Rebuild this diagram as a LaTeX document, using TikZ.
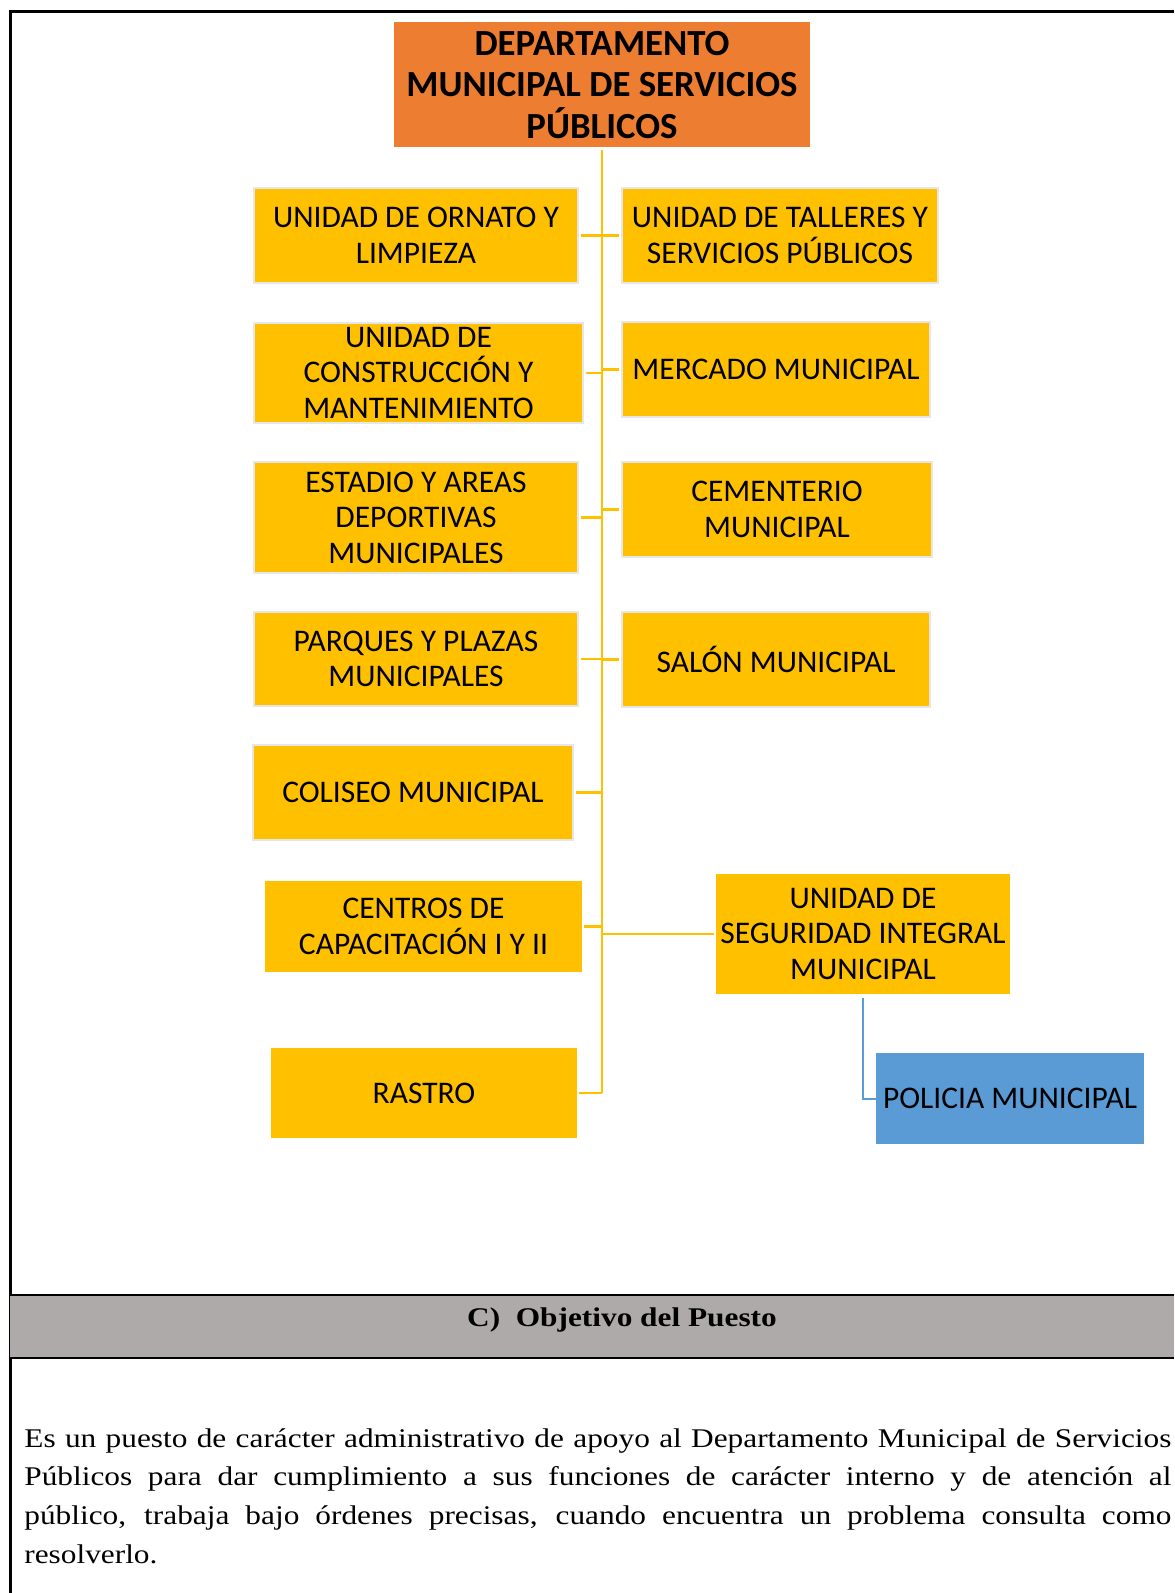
\documentclass[tikz,border=0pt]{standalone}
\usepackage{fontspec}
\setmainfont{Liberation Serif}[FakeStretch=1.16]
\newfontfamily\calibri{Carlito}

\definecolor{naranja}{HTML}{ED7D31}
\definecolor{oro}{HTML}{FFC000}
\definecolor{azul}{HTML}{5B9BD5}
\definecolor{gris}{HTML}{AEAAAA}
\definecolor{borde}{HTML}{E6E6E6}

\begin{document}
\begin{tikzpicture}[x=0.5pt,y=-0.5pt,
	unidad/.style={fill=oro, inner sep=0pt, align=center, font=\calibri\fontsize{15.75}{17.75}\selectfont},
	marco/.style={unidad, draw=borde, line width=1.2pt},
	rama/.style={draw=oro, line width=1.4pt, shorten <=1pt}]
	\useasboundingbox (0,0) rectangle (1174,1593);

	% organigrama
	\node[unidad, fill=naranja, font=\calibri\bfseries\fontsize{18.4}{20.8}\selectfont, minimum width=208pt, minimum height=62.5pt] (depto) at (602,85) {DEPARTAMENTO\\MUNICIPAL DE SERVICIOS\\PÚBLICOS};

	\node[marco, minimum width=162pt, minimum height=47.5pt] (orn) at (416,235.5) {UNIDAD DE ORNATO Y\\LIMPIEZA};
	\node[marco, minimum width=158pt, minimum height=47.5pt] (tal) at (780,235.5) {UNIDAD DE TALLERES Y\\SERVICIOS PÚBLICOS};
	\node[marco, minimum width=164.5pt, minimum height=50pt] (con) at (418.5,373) {UNIDAD DE\\CONSTRUCCIÓN Y\\MANTENIMIENTO};
	\node[marco, minimum width=154pt, minimum height=47.5pt] (mer) at (776,369.5) {MERCADO MUNICIPAL};
	\node[marco, minimum width=162pt, minimum height=55.5pt] (est) at (416,517.5) {ESTADIO Y AREAS\\DEPORTIVAS\\MUNICIPALES};
	\node[marco, minimum width=155pt, minimum height=47.5pt] (cem) at (777,509.5) {CEMENTERIO\\MUNICIPAL};
	\node[marco, minimum width=162pt, minimum height=47pt] (par) at (416,659) {PARQUES Y PLAZAS\\MUNICIPALES};
	\node[marco, minimum width=154pt, minimum height=47.5pt] (sal) at (776,659.5) {SALÓN MUNICIPAL};
	\node[marco, minimum width=160pt, minimum height=47.5pt] (col) at (413,792.5) {COLISEO MUNICIPAL};
	\node[unidad, minimum width=158.5pt, minimum height=45.5pt] (cen) at (423.5,926.5) {CENTROS DE\\CAPACITACIÓN I Y II};
	\node[unidad, minimum width=153pt, minimum height=45pt] (ras) at (424,1093) {RASTRO};
	\node[unidad, minimum width=147pt, minimum height=60pt] (seg) at (863,934) {UNIDAD DE\\SEGURIDAD INTEGRAL\\MUNICIPAL};
	\node[unidad, fill=azul, minimum width=134pt, minimum height=45.5pt] (pol) at (1010,1098.5) {POLICIA MUNICIPAL};

	\draw[rama] (depto.south) -- (depto.south |- ras.east);
	\foreach \u in {orn,con,est,par,col,cen,ras}
		\draw[rama] (\u.east) -- (\u.east -| depto.south);
	\foreach \u in {tal,mer,cem,sal,seg}
		\draw[rama] (\u.west) -- (\u.west -| depto.south);
	\draw[azul, line width=1pt, shorten <=2pt] (seg.south) |- (pol.west);

	% tabla
	\draw[line width=1.5pt] (10,1593) -- (10,12) -- (1174,12);
	\fill[gris] (10,1295) rectangle (1174,1358);
	\draw[line width=0.6pt] (10,1295) -- (1174,1295) (10,1358) -- (1174,1358);
	\node[anchor=base, font=\bfseries\fontsize{13.5}{16}\selectfont] (titulo) at (622,1326) {C)\ \ Objetivo del Puesto};
	\node[anchor=base west, inner sep=0pt, text width=573.5pt, align=justify, font=\fontsize{13.5}{19.35}\selectfont] (texto) at (24,1447)
		{Es un puesto de carácter administrativo de apoyo al Departamento Municipal de Servicios\linebreak
		Públicos para dar cumplimiento a sus funciones de carácter interno y de atención al\linebreak
		público, trabaja bajo órdenes precisas, cuando encuentra un problema consulta como\linebreak
		resolverlo.};
\end{tikzpicture}
\end{document}
